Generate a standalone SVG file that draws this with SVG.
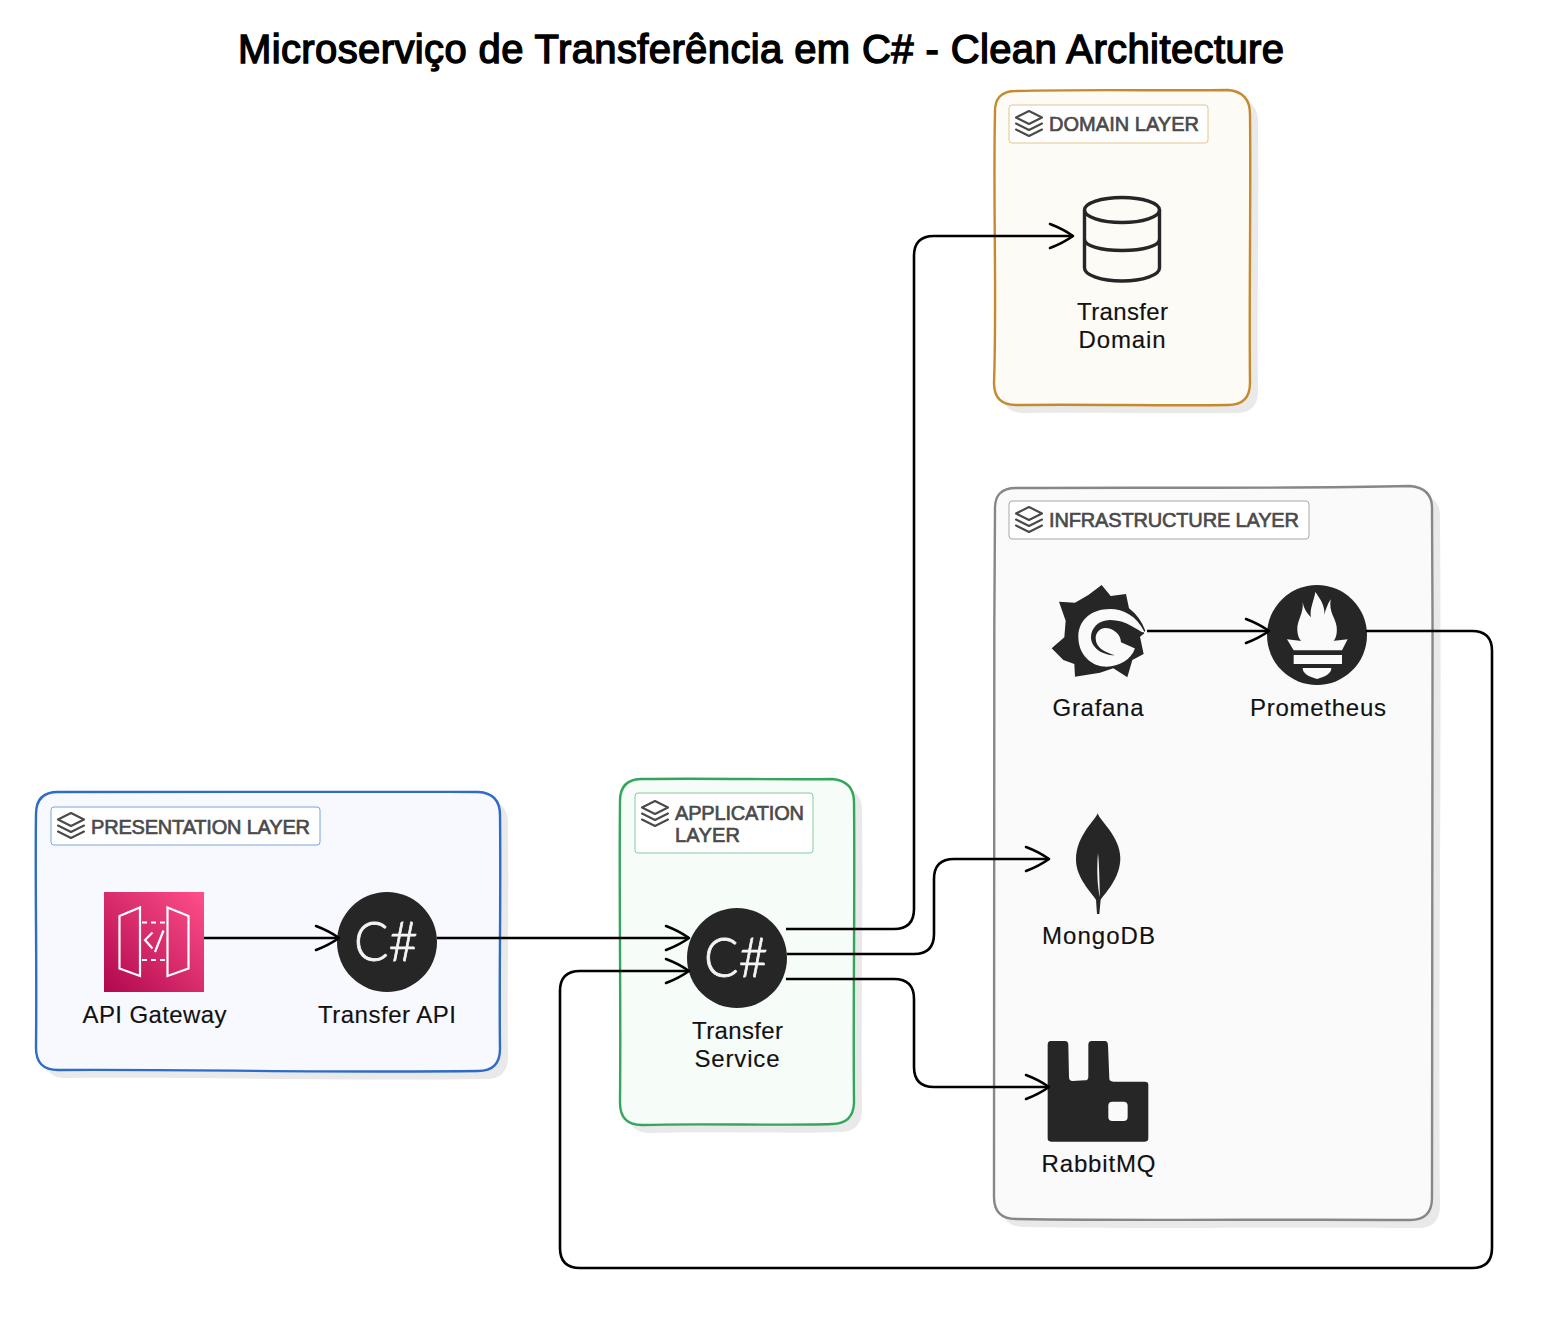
<svg xmlns="http://www.w3.org/2000/svg" width="1542" height="1319" viewBox="0 0 1542 1319">
<style>
text{font-family:"Liberation Sans",Arial,sans-serif}
.title{font-size:40px;fill:#000;stroke:#000;stroke-width:1.4;text-anchor:start}
.lbl{font-size:24px;fill:#111;stroke:#111;stroke-width:.15;text-anchor:middle}
.ltxt{font-size:20px;fill:#4a4a4a;stroke:#4a4a4a;stroke-width:.65}
.csharp{font-family:Lato,"Liberation Sans",sans-serif;font-weight:300;font-size:56px;fill:#f4f4f4;stroke:#f4f4f4;stroke-width:.8}
.ink{fill:#262626}
.bg{fill:#fafafa}
.shadow{fill:#e9e9e9;stroke:none}
.box{stroke-width:2.4}
.tag{fill:#fff;stroke-width:1}
.layers{fill:none;stroke:#4a4a4a;stroke-width:2.1;stroke-linejoin:round;stroke-linecap:round}
.conn{fill:none;stroke:#000;stroke-width:2.6;marker-end:url(#arrow)}
</style>
<defs>
<marker id="arrow" markerUnits="userSpaceOnUse" markerWidth="30" markerHeight="30" refX="25" refY="15" orient="auto" overflow="visible">
<path d="M2,3 C10,6 18,10 25,15 C18,20 10,24 2,27" fill="none" stroke="#000" stroke-width="2.6" stroke-linecap="round" stroke-linejoin="round"/>
</marker>
<symbol id="lyr" overflow="visible" width="27" height="26">
<path class="layers" d="M0.5,7 L13.5,0.5 L26.5,7 L13.5,13.5 Z M0.5,13 L13.5,19.5 L26.5,13 M0.5,19 L13.5,25.5 L26.5,19"/>
</symbol>
<linearGradient id="apigw" x1="0" y1="1" x2="1" y2="0">
<stop offset="0" stop-color="#b0084d"/><stop offset="1" stop-color="#ff4f8b"/>
</linearGradient>
</defs>

<text class="title" x="238" y="63" textLength="1046" lengthAdjust="spacing">Microserviço de Transferência em C# - Clean Architecture</text>

<g id="presentation-layer">
<path class="shadow" transform="translate(8,8)" d="M58,792 C180,793 330,791 478,792 Q500,793 500,815 C501,900 499,980 500,1049 Q500,1071 478,1071 C330,1073 180,1069 58,1070 Q36,1070 36,1048 C37,960 35,880 36,814 Q36,792 58,792Z"/>
<path class="box" fill="#f8f9fe" stroke="#2e6cc6" d="M58,792 C180,793 330,791 478,792 Q500,793 500,815 C501,900 499,980 500,1049 Q500,1071 478,1071 C330,1073 180,1069 58,1070 Q36,1070 36,1048 C37,960 35,880 36,814 Q36,792 58,792Z"/>
<rect class="tag" x="51" y="807" width="269" height="38" rx="3" stroke="#7ba4dc"/>
<use href="#lyr" x="57.5" y="812.5"/>
<text class="ltxt" x="91" y="834" textLength="219" lengthAdjust="spacing">PRESENTATION LAYER</text>
</g>

<g id="application-layer">
<path class="shadow" transform="translate(8,8)" d="M642,779 C720,778 780,780 832,779 Q854,781 854,802 C855,900 853,1010 854,1103 Q853,1124 832,1124 C780,1126 700,1123 642,1125 Q620,1125 620,1103 C621,1000 619,900 620,801 Q620,779 642,779Z"/>
<path class="box" fill="#f6fcf8" stroke="#34a65c" d="M642,779 C720,778 780,780 832,779 Q854,781 854,802 C855,900 853,1010 854,1103 Q853,1124 832,1124 C780,1126 700,1123 642,1125 Q620,1125 620,1103 C621,1000 619,900 620,801 Q620,779 642,779Z"/>
<rect class="tag" x="635" y="793" width="178" height="60" rx="3" stroke="#85cb9d"/>
<use href="#lyr" x="641.5" y="800.5"/>
<text class="ltxt" x="675" y="820" textLength="129" lengthAdjust="spacing">APPLICATION</text>
<text class="ltxt" x="675" y="842" textLength="65" lengthAdjust="spacing">LAYER</text>
</g>

<g id="domain-layer">
<path class="shadow" transform="translate(8,8)" d="M1016,91 C1090,89 1170,91 1228,90 Q1250,92 1250,114 C1251,200 1249,300 1250,383 Q1250,405 1228,405 C1160,406 1090,404 1016,405 Q994,405 994,383 C997,300 993,200 995,113 Q994,91 1016,91Z"/>
<path class="box" fill="#fcfbf6" stroke="#c58a2e" d="M1016,91 C1090,89 1170,91 1228,90 Q1250,92 1250,114 C1251,200 1249,300 1250,383 Q1250,405 1228,405 C1160,406 1090,404 1016,405 Q994,405 994,383 C997,300 993,200 995,113 Q994,91 1016,91Z"/>
<rect class="tag" x="1009" y="105" width="199" height="38" rx="3" stroke="#e5c48e"/>
<use href="#lyr" x="1015.5" y="110.5"/>
<text class="ltxt" x="1049" y="131" textLength="150" lengthAdjust="spacing">DOMAIN LAYER</text>
</g>

<g id="infrastructure-layer">
<path class="shadow" transform="translate(8,8)" d="M1016,488 C1150,487 1290,489 1410,486 Q1433,488 1432,510 C1434,750 1430,1000 1432,1198 Q1432,1220 1410,1220 C1290,1219 1150,1221 1016,1219 Q994,1219 994,1197 C995,1000 993,750 995,510 Q994,488 1016,488Z"/>
<path class="box" fill="#fafafa" stroke="#878787" d="M1016,488 C1150,487 1290,489 1410,486 Q1433,488 1432,510 C1434,750 1430,1000 1432,1198 Q1432,1220 1410,1220 C1290,1219 1150,1221 1016,1219 Q994,1219 994,1197 C995,1000 993,750 995,510 Q994,488 1016,488Z"/>
<rect class="tag" x="1009" y="501" width="300" height="38" rx="3" stroke="#a8a8a8"/>
<use href="#lyr" x="1015.5" y="506.5"/>
<text class="ltxt" x="1049" y="527" textLength="250" lengthAdjust="spacing">INFRASTRUCTURE LAYER</text>
</g>

<g id="api-gateway">
<rect x="104" y="892" width="100" height="100" fill="url(#apigw)"/>
<g fill="none" stroke="#fff" stroke-width="2.2">
<path d="M119.5,916 L140,907.5 V976 L119.5,968.5 Z M167.5,907.5 L188.5,916 V968.5 L167.5,976 Z"/>
<path d="M142,922.5 H167 M142,960 H167" stroke-dasharray="5 4"/>
<path d="M152.5,932.5 L145,940 L152.5,948.5 M163.5,930.5 L155,952"/>
</g>
<text class="lbl" x="154.500" y="1023" textLength="144" lengthAdjust="spacing">API Gateway</text>
</g>

<g id="transfer-api">
<circle class="ink" cx="387" cy="942" r="50"/>
<text class="csharp" x="354" y="961" textLength="64" lengthAdjust="spacingAndGlyphs">C#</text>
<text class="lbl" x="387" y="1023" textLength="138" lengthAdjust="spacing">Transfer API</text>
</g>

<g id="transfer-service">
<circle class="ink" cx="737" cy="958" r="50"/>
<text class="csharp" x="704" y="977" textLength="64" lengthAdjust="spacingAndGlyphs">C#</text>
<text class="lbl" x="737.500" y="1039" textLength="91" lengthAdjust="spacing">Transfer</text>
<text class="lbl" x="737" y="1067" textLength="85" lengthAdjust="spacing">Service</text>
</g>

<g id="transfer-domain">
<g fill="none" stroke="#262626" stroke-width="3.4">
<ellipse cx="1122" cy="210" rx="37.500" ry="12.500"/>
<path d="M1084.500,210 V268 C1084.500,275 1101,281 1122,281 C1143,281 1159.500,275 1159.500,268 V210 M1084.500,239 C1084.500,246 1101,250.500 1122,250.500 C1143,250.500 1159.500,246 1159.500,239"/>
</g>
<text class="lbl" x="1122.500" y="320" textLength="91" lengthAdjust="spacing">Transfer</text>
<text class="lbl" x="1122" y="348" textLength="87" lengthAdjust="spacing">Domain</text>
</g>

<g id="grafana">
<g transform="translate(1045,580) scale(.3333)">
<path class="ink" d="M170,15 L197,48 L243,42 L252,85 Q285,110 301,152 L285,170 L296,222 L262,240 L247,292 L205,265 L165,278 L90,290 L88,252 L55,240 L20,205 L58,172 L62,122 L42,65 L90,68 L130,45 Z"/>
<path class="bg" d="M298,155 C275,108 235,87 195,87 C140,87 100,120 100,170 C100,225 140,260 185,260 C222,260 258,240 270,205 L262,170 Z"/>
<path class="ink" d="M298,160 C275,150 245,120 195,120 C160,120 138,145 138,172 C138,202 170,226 210,226 C182,218 152,205 152,175 C152,155 168,144 180,144 C205,144 228,163 228,187 L272,206 L285,170 Z"/>
</g>
<text class="lbl" x="1098" y="716" textLength="91" lengthAdjust="spacing">Grafana</text>
</g>

<g id="prometheus">
<circle class="ink" cx="1317" cy="635" r="50"/>
<g transform="translate(1262,580) scale(.3333)">
<path class="bg" d="M160,36 C156,62 142,88 147,112 C136,100 126,88 122,66 C126,100 104,122 106,150 C107,168 112,178 120,186 L212,186 C222,176 226,160 224,140 C220,112 200,98 206,58 C196,74 190,92 187,104 C190,78 174,56 160,36Z"/>
<path class="bg" d="M75,178 L125,184 L205,184 L257,178 L240,211 L95,211 Z"/>
<rect class="bg" x="95" y="225" width="145" height="27"/>
<path class="bg" d="M122,264 L208,264 C208,280 190,290 165,297 C140,290 122,280 122,264Z"/>
</g>
<text class="lbl" x="1318" y="716" textLength="136" lengthAdjust="spacing">Prometheus</text>
</g>

<g id="mongodb">
<g transform="translate(1062,808) scale(.3333)">
<path class="ink" d="M107,15 C105,32 42,80 42,155 C42,210 90,255 102,275 L105,318 L112,318 L116,275 C130,255 175,210 175,150 C175,85 110,35 107,15Z"/>
<path class="bg" d="M108,135 C104,180 106,240 114,268 C112,220 112,170 108,135Z"/>
</g>
<text class="lbl" x="1098.500" y="944" textLength="113" lengthAdjust="spacing">MongoDB</text>
</g>

<g id="rabbitmq">
<g transform="translate(1020,800) scale(.3333)">
<path class="ink" d="M92,723 L135,723 Q145,723 145,735 L147,830 Q147,843 158,843 L195,841 Q205,841 205,830 L205,735 Q205,723 215,723 L255,723 Q263,723 264,735 L268,835 Q268,845 280,845 L375,845 Q385,845 385,855 L385,1015 Q385,1025 375,1025 L93,1025 Q83,1025 83,1015 L83,735 Q83,723 92,723Z"/>
<rect class="bg" x="265" y="905" width="58" height="58" rx="12"/>
</g>
<text class="lbl" x="1098.500" y="1172" textLength="114" lengthAdjust="spacing">RabbitMQ</text>
</g>

<g id="connectors">
<path class="conn" d="M204,938 H339"/>
<path class="conn" d="M437,938 H689"/>
<path class="conn" d="M786,929 H894 Q914,929 914,909 V256 Q914,236 934,236 H1073"/>
<path class="conn" d="M787,954 H914 Q934,954 934,934 V879 Q934,859 954,859 H1049"/>
<path class="conn" d="M786,979 H894 Q914,979 914,999 V1067 Q914,1087 934,1087 H1049"/>
<path class="conn" d="M1147,631 H1269"/>
<path class="conn" d="M1366,631 H1472 Q1492,631 1492,651 V1248 Q1492,1268 1472,1268 H580 Q560,1268 560,1248 V991 Q560,971 580,971 H689"/>
</g>
</svg>
